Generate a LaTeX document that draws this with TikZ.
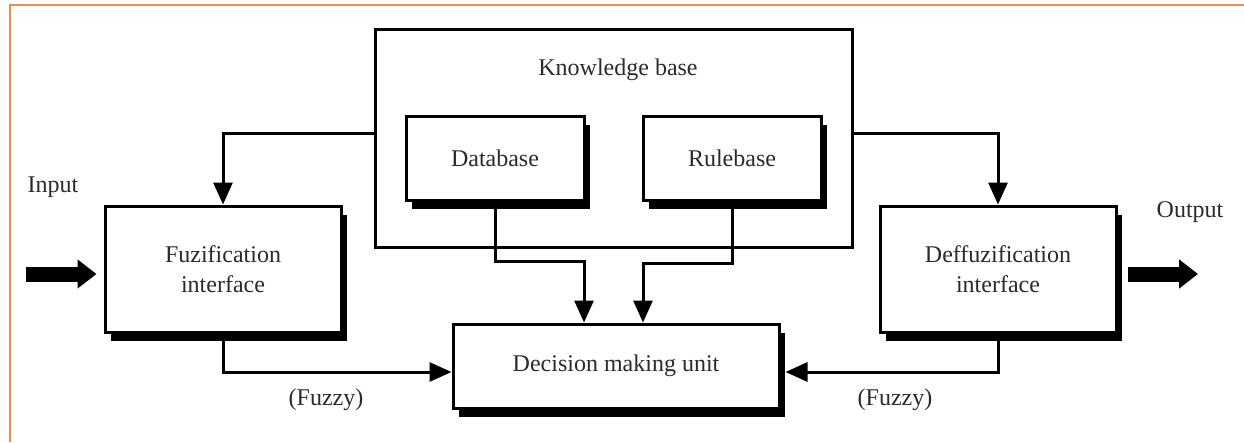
\documentclass[tikz,border=0pt]{standalone}
\usepackage{fontspec}
\setmainfont{Liberation Serif}
\usetikzlibrary{arrows.meta,shadows}
\definecolor{frameorange}{HTML}{F08A4B}
\definecolor{ink}{HTML}{2B2B2B}
\begin{document}
\begin{tikzpicture}[x=1pt,y=-1pt,
  every node/.style={font=\fontsize{24}{30}\selectfont, text=ink},
  block/.style={draw, line width=3pt, fill=white, rectangle, align=center, inner sep=0pt,
    drop shadow={shadow xshift=6pt, shadow yshift=-9pt, opacity=1, fill=black}},
  group/.style={draw, line width=3pt, rectangle, inner sep=0pt},
  conn/.style={line width=3pt, -{Triangle[length=22pt,width=19pt]}},
  fat/.style={line width=15pt, -{Triangle[length=19pt,width=28pt]}},
  tag/.style={inner sep=0pt}]
\useasboundingbox (0,0) rectangle (1244,442);

% frame lines
\draw[frameorange, line width=2pt] (10,442) -- (10,5) -- (1244,5);

% knowledge base group and its parts
\node[group, minimum width=477pt, minimum height=218pt] (kb) at (613.5,138) {};
\node[tag] (kbtitle) at (618,70) {Knowledge base};
\node[block, minimum width=178pt, minimum height=84pt] (db) at (495,158) {Database};
\node[block, minimum width=178pt, minimum height=84pt] (rb) at (732,158) {Rulebase};

% processing blocks
\node[block, minimum width=236pt, minimum height=126pt] (fuz) at (223,269) {Fuzification\\interface};
\node[block, minimum width=236pt, minimum height=126pt] (def) at (998,269) {Deffuzification\\interface};
\node[block, minimum width=326pt, minimum height=84pt] (dmu) at (616,366) {Decision making unit};

% labels
\node[tag] (inlbl) at (53,187) {Input};
\node[tag] (outlbl) at (1190,212) {Output};
\node[tag] (fzl) at (326,400) {(Fuzzy)};
\node[tag] (fzr) at (895,400) {(Fuzzy)};

% turning points
\coordinate (kbl) at (kb.west |- 0,133);
\coordinate (kbr) at (kb.east |- 0,133);
\coordinate (dbturn) at (db.south |- 0,261);
\coordinate (rbturn) at (rb.south |- 0,263);
\coordinate (instart) at (26,274);
\coordinate (outend) at (1198,274);

% connectors
\draw[conn] (kbl) -| (fuz.north);
\draw[conn] (kbr) -| (def.north);
\draw[conn] (db.south) -- (dbturn) -| ([xshift=-32pt]dmu.north);
\draw[conn] (rb.south) -- (rbturn) -| ([xshift=27pt]dmu.north);
\draw[conn] (fuz.south) |- ([yshift=-6pt]dmu.west);
\draw[conn] (def.south) |- ([xshift=5pt,yshift=-6pt]dmu.east);

% input and output
\draw[fat] (instart) -- ([xshift=-7pt,yshift=-5pt]fuz.west);
\draw[fat] ([xshift=10pt,yshift=-5pt]def.east) -- (outend);
\end{tikzpicture}
\end{document}
